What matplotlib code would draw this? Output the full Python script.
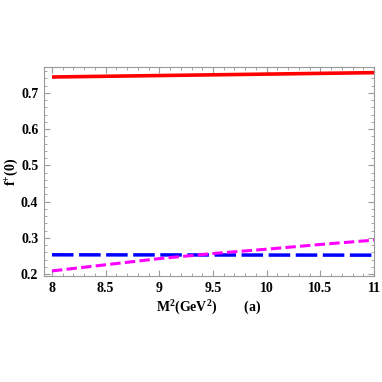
import numpy as np
import matplotlib.pyplot as plt
from matplotlib.ticker import MultipleLocator

# datos
M2 = [8.0, 8.5, 9.0, 9.5, 10.0, 10.5, 11.0]
f_rojo = [0.744, 0.746, 0.748, 0.750, 0.752, 0.754, 0.756]
f_azul = [0.2535, 0.2533, 0.2532, 0.253, 0.2528, 0.2527, 0.2525]
f_magenta = [0.209, 0.226, 0.243, 0.257, 0.269, 0.282, 0.294]

plt.rcParams['font.family'] = ['Liberation Serif', 'DejaVu Serif']
plt.rcParams['font.weight'] = 'bold'
plt.rcParams['mathtext.fontset'] = 'custom'
plt.rcParams['mathtext.rm'] = 'Liberation Serif:bold'
plt.rcParams['mathtext.bf'] = 'Liberation Serif:bold'
plt.rcParams['mathtext.it'] = 'Liberation Serif:bold'
plt.rcParams['mathtext.default'] = 'bf'

fig = plt.figure(figsize=(3.82, 3.82), dpi=100)
ax = fig.add_axes([0.115, 0.277, 0.864, 0.548])

ax.plot(M2, f_rojo, color='red', lw=2.6, solid_capstyle='butt')
ax.plot(M2, f_azul, color='blue', lw=2.5, dashes=(6.2, 1.6))
ax.plot(M2, f_magenta, color='magenta', lw=2.2, dashes=(3.4, 1.4))

ax.set_xlim(7.925, 11.0)
ax.set_ylim(0.1945, 0.772)
ax.xaxis.set_minor_locator(MultipleLocator(0.1))
ax.yaxis.set_minor_locator(MultipleLocator(0.02))
ax.set_xticks([8, 8.5, 9, 9.5, 10, 10.5, 11])
ax.set_xticklabels(['8', '8.5', '9', '9.5', '10', '10.5', '11'])
ax.set_yticks([0.2, 0.3, 0.4, 0.5, 0.6, 0.7])
ax.set_yticklabels(['0.2', '0.3', '0.4', '0.5', '0.6', '0.7'])

for s in ax.spines.values():
    s.set_color('#999999')
    s.set_linewidth(0.8)
ax.tick_params(which='both', direction='in', top=True, right=True,
               color='#999999', labelsize=10, pad=4)
ax.tick_params(which='major', length=4)
ax.tick_params(which='minor', length=2)

ax.set_xlabel(r'M$^2$(GeV$^2$)        (a)', fontsize=10, fontweight='bold',
              labelpad=3)
ax.set_ylabel(r'f$^{+}$(0)', fontsize=10, fontweight='bold', labelpad=1)

fig.savefig('out.png', dpi=100)
